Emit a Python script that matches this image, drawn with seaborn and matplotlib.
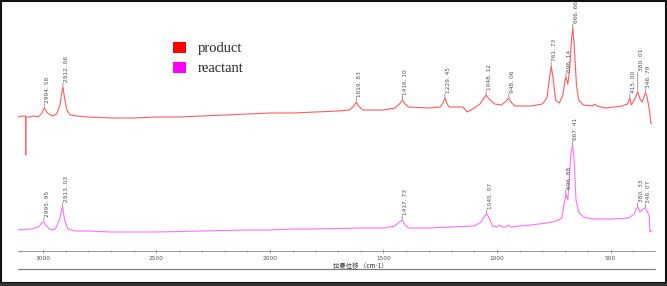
import matplotlib
matplotlib.use("Agg")
import matplotlib.pyplot as plt
import seaborn as sns
from matplotlib.patches import Patch, Rectangle
from matplotlib.lines import Line2D
from matplotlib.ticker import MultipleLocator

# Raman shift (cm-1) and intensity (a.u.)
product_shift = [3110, 3095, 3085, 3077, 3076, 3075, 3060, 3040, 3020, 3005, 2994, 2980,
                 2960, 2940, 2925, 2918, 2912, 2905, 2895, 2880, 2850, 2800, 2700, 2600,
                 2500, 2400, 2300, 2200, 2100, 2000, 1900, 1800, 1700, 1650, 1630, 1620,
                 1610, 1590, 1500, 1450, 1430, 1416, 1405, 1390, 1300, 1250, 1238, 1229,
                 1220, 1210, 1150, 1132, 1100, 1075, 1060, 1048, 1035, 1010, 980, 960,
                 948, 935, 920, 850, 800, 780, 770, 761, 752, 742, 725, 710, 700, 696,
                 688, 680, 672, 666, 660, 650, 640, 620, 580, 570, 560, 520, 450, 425,
                 415, 408, 395, 380, 370, 360, 350, 346, 340, 327, 323, 318]
product_int = [169, 170, 170, 170, 131, 169, 169, 170, 169, 173, 178, 173,
               170, 172, 181, 192, 199, 188, 176, 171, 170, 169, 168, 168,
               169, 169, 170, 171, 172, 173, 173, 174, 175, 176, 180, 184,
               180, 176, 176, 178, 182, 186, 182, 179, 178, 179, 183, 188,
               182, 179, 179, 174, 178, 182, 187, 191, 187, 182, 181, 185,
               188, 183, 180, 180, 182, 188, 206, 220, 206, 186, 183, 191, 206, 209,
               202, 216, 246, 258, 241, 201, 186, 181, 180, 182, 180, 178, 180, 182,
               188, 181, 186, 194, 187, 184, 191, 193, 190, 174, 163, 163]

reactant_shift = [3110, 3050, 3020, 3005, 2996, 2985, 2965, 2945, 2925, 2917, 2913, 2905,
                  2890, 2860, 2800, 2700, 2500, 2300, 2100, 2000, 1900, 1800, 1600, 1500,
                  1450, 1430, 1417, 1405, 1390, 1300, 1200, 1100, 1070, 1055, 1045, 1035,
                  1020, 1000, 990, 975, 960, 950, 940, 900, 850, 780, 740, 715, 705, 696,
                  688, 682, 675, 667, 660, 652, 640, 620, 580, 500, 420, 395, 388, 380,
                  370, 360, 350, 346, 340, 330, 326, 323, 318]
reactant_int = [56, 57, 59, 63, 64, 60, 56, 57, 68, 77, 79, 66,
                57, 55, 55, 54, 54, 55, 56, 56, 57, 57, 58, 58,
                60, 64, 66, 61, 58, 58, 59, 60, 64, 70, 72, 68,
                60, 59, 61, 59, 59, 61, 59, 60, 61, 63, 65, 68, 81, 92,
                86, 106, 131, 141, 126, 86, 74, 69, 67, 67, 68, 72, 77, 79,
                74, 76, 78, 78, 75, 71, 54, 55, 55]

product_peaks = [2994.58, 2912.06, 1619.83, 1416.10, 1229.45, 1048.12, 948.06,
                 761.73, 696.14, 666.66, 415.00, 380.01, 346.79]
product_peak_int = [178, 199, 184, 186, 188, 191, 188, 220, 209, 258, 188, 194, 193]
reactant_peaks = [2995.95, 2913.03, 1417.73, 1045.07, 696.88, 667.41, 380.33, 346.07]
reactant_peak_int = [64, 79, 66, 72, 92, 141, 79, 78]

series_names = ["product", "reactant"]
series_colors = ["#ff5c5c", "#ff6eff"]
legend_colors = ["#ff0000", "#ff00ff"]

sns.set_theme(style="white")
plt.rcParams["font.family"] = ["DejaVu Sans", "Noto Sans CJK SC"]

fig = plt.figure(figsize=(6.67, 2.86), dpi=100)
ax = fig.add_axes([18 / 667, 35 / 286, 637 / 667, 246 / 286])

sns.lineplot(x=product_shift, y=product_int, color=series_colors[0], linewidth=0.8, ax=ax)
sns.lineplot(x=reactant_shift, y=reactant_int, color=series_colors[1], linewidth=0.8, ax=ax)


def label_peaks(peaks, heights, long_ones=()):
    for wn, h in zip(peaks, heights):
        txt = f"{wn:.2f}".replace(".", ". ")
        lift = 14 if wn in long_ones else 2.5
        ax.annotate("", xy=(wn, h + 0.5), xytext=(0, lift), textcoords="offset points",
                    arrowprops=dict(arrowstyle="-", color="#777777", lw=0.5,
                                    shrinkA=0, shrinkB=0))
        ax.annotate(txt, xy=(wn, h), xytext=(0.6, lift + 0.8), textcoords="offset points",
                    rotation=90, ha="left", va="bottom", fontsize=4.2, color="#555555")


label_peaks(product_peaks, product_peak_int, long_ones=(380.01,))
label_peaks(reactant_peaks, reactant_peak_int)

ax.set_xlim(3110, 304)
ax.set_ylim(35, 281)
ax.set_yticks([])
ax.xaxis.set_major_locator(MultipleLocator(500))
ax.xaxis.set_minor_locator(MultipleLocator(100))
ax.tick_params(axis="x", which="both", direction="inout", color="#888888",
               labelsize=4.2, labelcolor="#555555", pad=2, bottom=True)
ax.tick_params(axis="x", which="major", length=3, width=0.5)
ax.tick_params(axis="x", which="minor", length=2, width=0.5)
for side in ["left", "top", "right"]:
    ax.spines[side].set_visible(False)
ax.spines["bottom"].set_color("#888888")
ax.spines["bottom"].set_linewidth(0.6)
ax.set_xlabel("拉曼位移 （cm-1）", fontsize=4.6, color="#333333",
              family=["Noto Sans CJK SC", "DejaVu Sans"])
ax.xaxis.set_label_coords(0.537, -0.045)
ax.set_ylabel("")

handles = [Patch(facecolor=c, edgecolor="none") for c in legend_colors]
ax.legend(handles, series_names, loc="upper left", bbox_to_anchor=(173 / 667, 1 - 42 / 286),
          bbox_transform=fig.transFigure, frameon=False, borderpad=0, borderaxespad=0,
          handlelength=0.9, handleheight=0.75, handletextpad=0.8, labelspacing=0.45,
          prop={"family": "Liberation Serif", "size": 10.5})

# second rule under the axis label and the dark window frame
fig.add_artist(Line2D([18 / 667, 655 / 667], [1 - 269 / 286] * 2, color="#777777", lw=0.8))
fig.add_artist(Rectangle((0.5 / 667, 3.5 / 286), 665.5 / 667, 281.5 / 286,
                         transform=fig.transFigure, fill=False, edgecolor="#111111", lw=1.5))
fig.add_artist(Rectangle((0, 0), 1, 3 / 286, transform=fig.transFigure,
                         facecolor="#333333", edgecolor="none"))

fig.savefig("out.png", dpi=100)
